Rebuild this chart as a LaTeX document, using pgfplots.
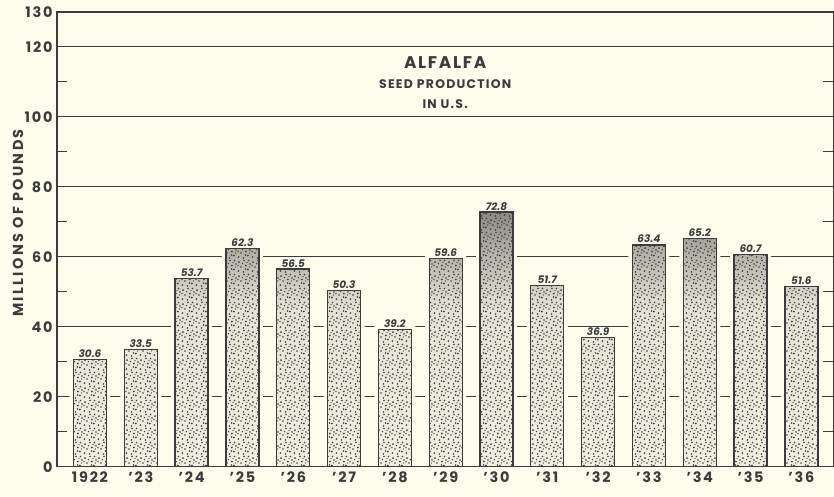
\documentclass[border=0pt]{standalone}
\usepackage{pgfplots}
\usepackage{pgfplotstable}
\pgfplotsset{compat=1.18}
\usepackage{fontspec}
\setmainfont{Poppins}
\usetikzlibrary{patterns}
\definecolor{paper}{RGB}{253,253,238}
\definecolor{ink}{RGB}{60,60,60}
\pgfdeclareverticalshading{barshade}{100bp}{color(0bp)=(paper!95!black); color(25bp)=(paper!95!black); color(56bp)=(paper!90!black); color(66bp)=(paper!72!black); color(75bp)=(paper!55!black); color(100bp)=(paper!55!black)}
\pgfdeclarepatternformonly{stipple}{\pgfqpoint{0bp}{0bp}}{\pgfqpoint{14bp}{14bp}}{\pgfqpoint{14bp}{14bp}}{%
  \pgfpathcircle{\pgfqpoint{1.5bp}{2bp}}{1bp}
  \pgfpathcircle{\pgfqpoint{6.5bp}{1bp}}{0.9bp}
  \pgfpathcircle{\pgfqpoint{11bp}{3.5bp}}{1bp}
  \pgfpathcircle{\pgfqpoint{4bp}{6bp}}{0.95bp}
  \pgfpathcircle{\pgfqpoint{9bp}{7.5bp}}{1bp}
  \pgfpathcircle{\pgfqpoint{13bp}{9bp}}{0.9bp}
  \pgfpathcircle{\pgfqpoint{2bp}{11bp}}{1bp}
  \pgfpathcircle{\pgfqpoint{7bp}{12.5bp}}{0.95bp}
  \pgfpathcircle{\pgfqpoint{11.5bp}{12.5bp}}{0.8bp}
  \pgfpathcircle{\pgfqpoint{5.5bp}{9.5bp}}{0.75bp}
  \pgfpathcircle{\pgfqpoint{8.5bp}{4bp}}{0.8bp}
  \pgfpathcircle{\pgfqpoint{12.5bp}{6bp}}{0.7bp}
  \pgfpathcircle{\pgfqpoint{1bp}{7.5bp}}{0.75bp}
  \pgfpathcircle{\pgfqpoint{10bp}{10.5bp}}{0.7bp}
  \pgfusepath{fill}}
\pgfplotsset{
  layers/mylayers/.define layer set={axis background,axis grid,mask,axis ticks,axis lines,axis tick labels,main,axis descriptions,axis foreground}{/pgfplots/layers/standard},
}
\pgfplotstableread{
x val
0 30.6
1 33.5
2 53.7
3 62.3
4 56.5
5 50.3
6 39.2
7 59.6
8 72.8
9 51.7
10 36.9
11 63.4
12 65.2
13 60.7
14 51.6
}\alfalfa
\begin{document}
\begin{tikzpicture}
\begin{axis}[
  set layers=mylayers,
  scale only axis,
  width=777bp, height=455bp,
  xmin=-0.65, xmax=14.63,
  ymin=0, ymax=130,
  ybar,
  axis line style={draw=ink, line width=1.2bp},
  xtick=data,
  xticklabels={1922,'23,'24,'25,'26,'27,'28,'29,'30,'31,'32,'33,'34,'35,'36},
  x tick style={draw=none},
  major x tick style={draw=none},
  ytick={0,20,40,60,80,100,120,130},
  minor ytick={10,30,50,70,90,110},
  ymajorgrids,
  major grid style={draw=ink, line width=1bp},
  major tick length=0pt,
  minor tick length=10bp,
  minor tick style={draw=ink, line width=1bp},
  tick align=inside,
  /pgf/number format/assume math mode=true,
  ticklabel style={font=\fontsize{14.5}{15}\selectfont\bfseries\addfontfeatures{LetterSpace=12}, text=ink},
  xticklabel style={yshift=-2bp},
  yticklabel style={xshift=-1bp},
  ylabel={MILLIONS OF POUNDS},
  ylabel style={at={(axis description cs:-0.0502,0.536)}, anchor=center, font=\fontsize{14.5}{15}\selectfont\bfseries\addfontfeatures{LetterSpace=16}, text=ink},
  clip=false,
]
\begin{pgfonlayer}{axis background}
\fill[paper] ([xshift=-57bp,yshift=-30bp]rel axis cs:0,0) rectangle ([yshift=12bp]rel axis cs:1,1);
\end{pgfonlayer}
\addplot[bar width=41bp, bar shift=0pt, fill=paper, draw=none, on layer=mask] table[x=x, y expr=\thisrow{val}+2] {\alfalfa};
\addplot[bar width=33bp, bar shift=0pt, draw=none, shade, shading=barshade] table[x=x, y=val] {\alfalfa};
\addplot[bar width=33bp, bar shift=0pt, draw=ink, line width=1.3bp, fill=none, pattern=stipple, pattern color=black!75,
  nodes near coords={\pgfmathprintnumber[fixed,fixed zerofill,precision=1]{\pgfplotspointmeta}},
  every node near coord/.append style={font=\fontsize{10.5}{11}\selectfont\bfseries\itshape, text=ink, fill=paper, inner sep=1.2bp, anchor=south, yshift=0bp},
] table[x=x, y=val] {\alfalfa};
\node[font=\fontsize{17}{17}\selectfont\bfseries\addfontfeatures{LetterSpace=10}, text=ink] at (axis description cs:0.5,0.888) {ALFALFA};
\node[font=\fontsize{12.5}{13}\selectfont\bfseries\addfontfeatures{LetterSpace=10}, text=ink] at (axis description cs:0.5,0.842) {SEED PRODUCTION};
\node[font=\fontsize{12.5}{13}\selectfont\bfseries\addfontfeatures{LetterSpace=10}, text=ink] at (axis description cs:0.5,0.798) {IN U.S.};
\end{axis}
\end{tikzpicture}
\end{document}
